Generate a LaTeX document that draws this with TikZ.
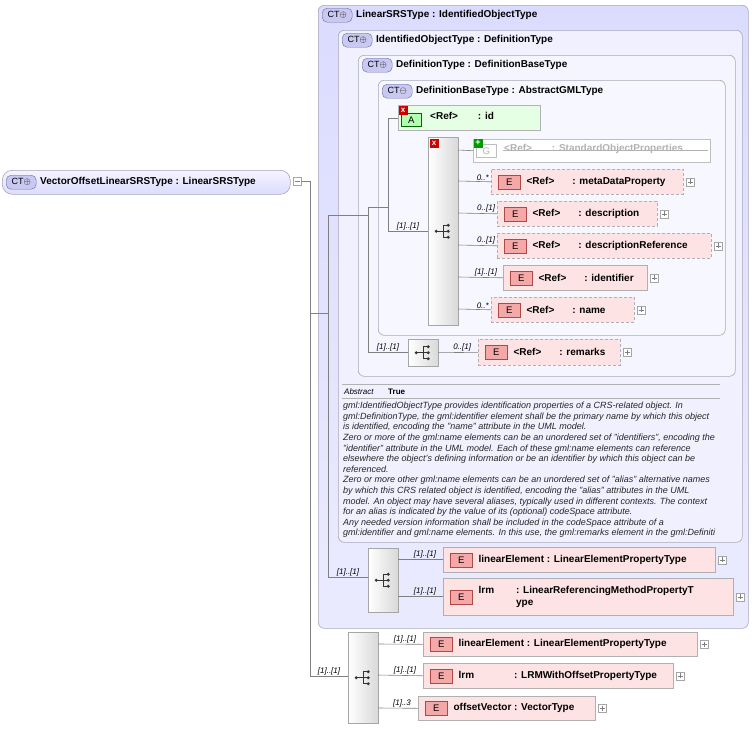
\documentclass[tikz,border=0pt]{standalone}
\usepackage{fontspec}
\setmainfont{Liberation Sans}
\usetikzlibrary{calc}
\definecolor{bordr}{HTML}{A8A8B8}
\definecolor{ctfill}{HTML}{C8C8F0}
\definecolor{ctdraw}{HTML}{6A6AA8}
\definecolor{efill}{HTML}{FDE3E3}
\definecolor{eborder}{HTML}{B0B0B0}
\definecolor{ebadgef}{HTML}{F4A8A8}
\definecolor{ebadged}{HTML}{B04848}
\definecolor{linec}{HTML}{808080}
\tikzset{
 box/.style={draw=bordr,rounded corners=6pt,line width=0.6pt},
 ct/.style={draw=ctdraw,fill=ctfill,rounded corners=5pt,inner sep=1.5pt,font=\fontsize{9}{10}\selectfont,anchor=north west,minimum height=14pt,minimum width=30pt},
 hdr/.style={font=\fontsize{10}{12}\bfseries\selectfont,anchor=west,inner sep=0pt},
 elem/.style={draw=eborder,fill=efill,line width=0.6pt},
 dashd/.style={dash pattern=on 3pt off 2pt},
 ebadge/.style={draw=ebadged,fill=ebadgef,inner sep=1.2pt,minimum width=22pt,minimum height=14pt,font=\fontsize{9.5}{10}\selectfont},
 lbl/.style={font=\fontsize{10}{12}\bfseries\selectfont,inner sep=0pt,align=left},
 plus/.style={draw=gray!70,fill=white,minimum size=8pt,inner sep=0pt,path picture={\draw[gray] ($(path picture bounding box.west)+(1.5pt,0)$)--($(path picture bounding box.east)+(-1.5pt,0)$);\draw[gray] ($(path picture bounding box.north)+(0,-1.5pt)$)--($(path picture bounding box.south)+(0,1.5pt)$);}},
 card/.style={font=\fontsize{8}{9}\itshape\selectfont,inner sep=1pt,anchor=south},
 seq/.style={draw=gray!70,left color=white,right color=gray!30,anchor=north west,inner sep=0pt},
 conn/.style={draw=linec,line width=0.6pt},
}
\newcommand\seqicon[1]{%
 \fill[black!80] ($(#1)+(-7pt,0)$) circle (1.6pt);
 \draw[black!80,line width=0.9pt] ($(#1)+(-7pt,0)$)--($(#1)+(0,0)$) ($(#1)+(0,6pt)$)--($(#1)+(0,-6pt)$)
   ($(#1)+(0,6pt)$)--($(#1)+(4pt,6pt)$) ($(#1)+(0,0)$)--($(#1)+(4pt,0)$) ($(#1)+(0,-6pt)$)--($(#1)+(4pt,-6pt)$);
 \fill[black!80] ($(#1)+(5pt,6pt)$) circle (1.6pt) ($(#1)+(5pt,0)$) circle (1.6pt) ($(#1)+(5pt,-6pt)$) circle (1.6pt);}
\newcommand\elm[7]{%
 \node[elem,#6,minimum width=#4pt,minimum height=#5pt,anchor=north west] (#1) at (#2,-#3) {};
 \node[ebadge,anchor=west] (#1b) at ([xshift=7pt]#1.west) {E};
 \node[lbl,anchor=west] (#1t) at ([xshift=6pt]#1b.east) {#7};
 \node[plus] (#1p) at ([xshift=7pt]#1.east) {};}
\newcommand\redx[2]{\node[fill=red!80!black,minimum size=9pt,inner sep=0pt,text=white,font=\fontsize{8}{8}\bfseries\selectfont] (#1) at #2 {x};}
\begin{document}
\begin{tikzpicture}[x=1pt,y=1pt]
\useasboundingbox (0,0) rectangle (752,-729);
% nested complex type boxes
\node[box,top color=blue!14!white,bottom color=blue!8!white,minimum width=430pt,minimum height=623pt,anchor=north west] (lsrs) at (318,-5) {};
\node[ct] (ct1) at (322,-8) {CT$\oplus$};
\node[hdr] (h1) at (356,-15) {LinearSRSType : IdentifiedObjectType};
\node[box,fill=blue!6!white,minimum width=404pt,minimum height=512pt,anchor=north west] (iot) at (338,-30) {};
\node[ct] (ct2) at (342,-33) {CT$\oplus$};
\node[hdr] (h2) at (376,-40) {IdentifiedObjectType : DefinitionType};
\node[box,fill=blue!4!white,minimum width=377pt,minimum height=321pt,anchor=north west] (dt) at (358,-55) {};
\node[ct] (ct3) at (362,-58) {CT$\oplus$};
\node[hdr] (h3) at (396,-65) {DefinitionType : DefinitionBaseType};
\node[box,fill=blue!3!white,minimum width=347pt,minimum height=255pt,anchor=north west] (dbt) at (378,-80) {};
\node[ct] (ct4) at (382,-84) {CT$\ominus$};
\node[hdr] (h4) at (416,-91) {DefinitionBaseType : AbstractGMLType};
% attribute id
\node[draw=gray!60,fill=green!10,minimum width=142pt,minimum height=25pt,anchor=north west] (attr) at (398,-105) {};
\node[draw=green!40!black,fill=green!30,inner sep=1.2pt,minimum width=20pt,minimum height=13pt,font=\fontsize{9.5}{10}\selectfont,anchor=west] (attrb) at (401,-120) {A};
\node[lbl,anchor=west] (attrt) at (430,-116) {<Ref>\hspace{20pt}: id};
\redx{x1}{(403,-110)}
% sequence 1
\node[seq,minimum width=30pt,minimum height=188pt] (s1) at (428,-137) {};
\seqicon{s1.center}
\redx{x2}{(434,-143)}
% group
\node[draw=gray!50,fill=white,minimum width=237pt,minimum height=23pt,anchor=north west] (grp) at (473,-139) {};
\node[draw=gray!50,fill=white,inner sep=1.2pt,minimum width=20pt,minimum height=13pt,text=gray!60,font=\fontsize{9.5}{10}\selectfont,anchor=west] (grpb) at (476,-151) {G};
\node[lbl,anchor=west,text=gray!60] (grpt) at (504,-149) {<Ref>\hspace{20pt}: StandardObjectProperties};
\draw[gray!60] (503,-150)--(708,-150);
\node[fill=green!60!black,minimum size=9pt,inner sep=0pt,text=white,font=\fontsize{9}{9}\bfseries\selectfont] (gp) at (478,-143) {+};
% elements of sequence 1
\elm{meta}{491}{169}{192}{25}{dashd}{<Ref>\hspace{18pt}: metaDataProperty}
\elm{desc}{497}{201}{160}{25}{dashd}{<Ref>\hspace{18pt}: description}
\elm{dref}{497}{233}{214}{25}{dashd}{<Ref>\hspace{18pt}: descriptionReference}
\elm{ident}{503}{265}{144}{25}{}{<Ref>\hspace{18pt}: identifier}
\elm{name}{491}{297}{143}{25}{dashd}{<Ref>\hspace{18pt}: name}
\draw[conn] (458,-150)--(grp.west);
\draw[conn] (458,-181)--(meta.west) node[card,pos=0.75]{0..*};
\draw[conn] (458,-213)--(desc.west) node[card,pos=0.72]{0..[1]};
\draw[conn] (458,-245)--(dref.west) node[card,pos=0.72]{0..[1]};
\draw[conn] (458,-277)--(ident.west) node[card,pos=0.62]{[1]..[1]};
\draw[conn] (458,-309)--(name.west) node[card,pos=0.75]{0..*};
% sequence 2 remarks
\node[seq,minimum width=30pt,minimum height=27pt] (s2) at (408,-339) {};
\seqicon{s2.center}
\elm{rem}{478}{339}{142}{26}{dashd}{<Ref>\hspace{18pt}: remarks}
\draw[conn] (s2.east)--(rem.west) node[card,pos=0.6]{0..[1]};
% inner connectors
\draw[conn] (388,-118)--(attr.west|-{(0,-118)});
\draw[conn] (388,-118)--(388,-231);
\draw[conn] (388,-231)--(s1.west|-{(0,-231)}) node[card,pos=0.5]{[1]..[1]};
\draw[conn] (368,-207)--(388,-207);
\draw[conn] (368,-207)--(368,-352);
\draw[conn] (368,-352)--(s2.west|-{(0,-352)}) node[card,pos=0.5]{[1]..[1]};
\draw[conn] (348,-215)--(368,-215);
\draw[conn] (328,-215)--(348,-215);
\draw[conn] (328,-215)--(328,-577);
% documentation
\draw[gray!60] (342,-384)--(720,-384);
\node[font=\fontsize{8}{9}\itshape\selectfont,anchor=west,inner sep=0pt] (abs) at (344,-392) {Abstract};
\node[font=\fontsize{8}{9}\bfseries\selectfont,anchor=west,inner sep=0pt] (tru) at (388,-392) {True};
\draw[gray!60] (342,-398)--(720,-398);
\node[font=\fontsize{9}{10.6}\itshape\selectfont,anchor=north west,inner sep=0pt,align=left,text=black!85] (doc) at (343,-402) {gml:IdentifiedObjectType provides identification properties of a CRS-related object. In\\
gml:DefinitionType, the gml:identifier element shall be the primary name by which this object\\
is identified, encoding the "name" attribute in the UML model.\\
Zero or more of the gml:name elements can be an unordered set of "identifiers", encoding the\\
"identifier" attribute in the UML model. Each of these gml:name elements can reference\\
elsewhere the object's defining information or be an identifier by which this object can be\\
referenced.\\
Zero or more other gml:name elements can be an unordered set of "alias" alternative names\\
by which this CRS related object is identified, encoding the "alias" attributes in the UML\\
model. An object may have several aliases, typically used in different contexts. The context\\
for an alias is indicated by the value of its (optional) codeSpace attribute.\\
Any needed version information shall be included in the codeSpace attribute of a\\
gml:identifier and gml:name elements. In this use, the gml:remarks element in the gml:Definiti};
% sequence 3
\node[seq,minimum width=30pt,minimum height=64pt] (s3) at (368,-548) {};
\seqicon{s3.center}
\elm{le1}{443}{547}{272}{25}{}{linearElement : LinearElementPropertyType}
\elm{lrm1}{443}{578}{290}{37}{}{\begin{tabular}{@{}l@{\hspace{22pt}}l@{}}lrm & : LinearReferencingMethodPropertyT\\ & ype\end{tabular}}
\draw[conn] (398,-559)--(le1.west|-{(0,-559)}) node[card,pos=0.6]{[1]..[1]};
\draw[conn] (398,-596)--(lrm1.west|-{(0,-596)}) node[card,pos=0.6]{[1]..[1]};
\draw[conn] (328,-577)--(s3.west|-{(0,-577)}) node[card,pos=0.5]{[1]..[1]};
% root
\node[box,rounded corners=10pt,top color=blue!4!white,bottom color=blue!14!white,minimum width=288pt,minimum height=24pt,anchor=north west] (root) at (2,-170) {};
\node[ct] (ct0) at (6,-175) {CT$\oplus$};
\node[hdr] (h0) at (40,-182) {VectorOffsetLinearSRSType : LinearSRSType};
\node[draw=gray!70,fill=white,minimum size=8pt,inner sep=0pt] (rm) at (297,-181) {};
\draw[gray] (294.5,-181)--(299.5,-181);
% sequence 4
\node[seq,minimum width=30pt,minimum height=91pt] (s4) at (348,-632) {};
\seqicon{s4.center}
\elm{le2}{423}{632}{274}{24}{}{linearElement : LinearElementPropertyType}
\elm{lrm2}{423}{663}{250}{25}{}{lrm\hspace{40pt}: LRMWithOffsetPropertyType}
\elm{ov}{418}{696}{177}{24}{}{offsetVector : VectorType}
\draw[conn] (378,-644)--(le2.west) node[card,pos=0.6]{[1]..[1]};
\draw[conn] (378,-675)--(lrm2.west) node[card,pos=0.6]{[1]..[1]};
\draw[conn] (378,-708)--(ov.west) node[card,pos=0.6]{[1]..3};
% root connectors
\draw[conn] (rm.east)--(310,-181)--(310,-676);
\draw[conn] (310,-313)--(328,-313);
\draw[conn] (310,-676)--(s4.west|-{(0,-676)}) node[card,pos=0.5]{[1]..[1]};
\end{tikzpicture}
\end{document}
